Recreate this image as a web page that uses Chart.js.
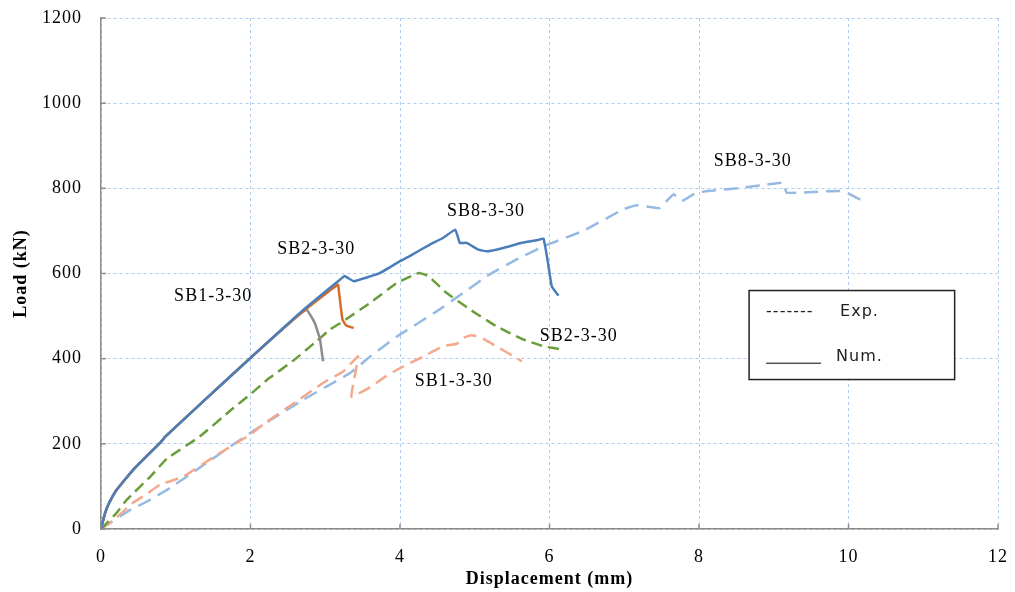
<!DOCTYPE html>
<html>
<head>
<meta charset="utf-8">
<script src="https://cdn.jsdelivr.net/npm/chart.js@4/dist/chart.umd.min.js"></script>
<style>
  html, body { margin: 0; padding: 0; background: #fff; }
  #wrap { width: 1015px; height: 592px; }
</style>
</head>
<body>
<div id="wrap"><canvas id="loadChart"></canvas></div>
<script>
// Numerical curves (solid)
const numSB8X = [0, 0.05, 0.1, 0.21, 0.43, 0.79, 0.86, 1.4, 2.0, 2.71, 3.2, 3.26, 3.38, 3.73, 4.0, 4.13, 4.4, 4.58, 4.74, 4.8, 4.89, 5.05, 5.16, 5.38, 5.63, 5.83, 5.92, 5.98, 6.03, 6.12];
const numSB8Y = [0, 35, 58, 92, 139, 202, 217, 305, 402, 515, 586, 594, 582, 601, 629, 641, 668, 684, 703, 672, 672, 656, 652, 660, 672, 678, 682, 625, 570, 548];
const numSB2X = [0, 0.05, 0.1, 0.21, 0.43, 0.79, 0.86, 1.4, 2.0, 2.71, 3.17, 3.18, 3.23, 3.28, 3.38];
const numSB2Y = [0, 35, 58, 92, 139, 202, 217, 305, 402, 512, 574, 562, 492, 478, 472];
const numSB1X = [0, 0.05, 0.1, 0.21, 0.43, 0.79, 0.86, 1.4, 2.0, 2.6, 2.75, 2.86, 2.93, 2.97];
const numSB1Y = [0, 35, 58, 92, 139, 202, 217, 305, 402, 497, 515, 484, 445, 394];

// Experimental curves (dashed)
const expSB2X = [0, 0.21, 0.34, 0.66, 0.88, 1.32, 1.77, 1.99, 2.22, 2.57, 2.89, 3.06, 3.24, 3.6, 3.96, 4.25, 4.38, 4.62, 4.94, 5.29, 5.65, 5.92, 6.19];
const expSB2Y = [0, 38, 68, 123, 165, 217, 284, 315, 350, 395, 442, 468, 488, 531, 578, 601, 594, 555, 515, 476, 445, 429, 421];
const expSB1X = [0, 0.17, 0.43, 0.61, 0.79, 1.1, 1.55, 1.99, 2.22, 2.62, 2.97, 3.24, 3.44, 3.35, 3.58, 3.78, 3.96, 4.31, 4.58, 4.76, 4.85, 4.96, 5.09, 5.29, 5.63];
const expSB1Y = [0, 21, 62, 82, 104, 123, 174, 221, 252, 300, 343, 370, 405, 311, 331, 355, 374, 405, 429, 435, 449, 455, 449, 429, 394];
const expSB8X = [0, 0.39, 0.61, 0.92, 1.28, 1.99, 2.71, 3.33, 3.58, 3.96, 4.49, 4.85, 5.2, 5.56, 5.92, 6.45, 6.99, 7.17, 7.43, 7.48, 7.66, 7.77, 7.97, 8.55, 8.91, 9.13, 9.17, 9.35, 9.89, 10.02, 10.24];
const expSB8Y = [0, 45, 64, 96, 139, 225, 304, 366, 402, 452, 511, 555, 598, 633, 664, 700, 751, 760, 754, 754, 786, 770, 790, 801, 809, 813, 790, 790, 794, 786, 766];

// Curve labels (data coordinates of text centre)
const labelText = ['SB8-3-30', 'SB8-3-30', 'SB2-3-30', 'SB1-3-30', 'SB2-3-30', 'SB1-3-30'];
const labelX = [5.15, 8.72, 2.88, 1.50, 6.39, 4.72];
const labelY = [746, 864, 656, 546, 452, 348];

const xTickValues = [0, 2, 4, 6, 8, 10, 12];
const yTickValues = [0, 200, 400, 600, 800, 1000, 1200];

const toPoints = (xs, ys) => xs.map((x, i) => ({ x, y: ys[i] }));

const datasets = [
  { label: 'Num SB8-3-30', data: toPoints(numSB8X, numSB8Y), borderColor: 'rgb(74,126,187)', borderWidth: 2.5 },
  { label: 'Num SB2-3-30', data: toPoints(numSB2X, numSB2Y), borderColor: 'rgb(214,108,40)', borderWidth: 2.5 },
  { label: 'Num SB1-3-30', data: toPoints(numSB1X, numSB1Y), borderColor: 'rgb(140,140,140)', borderWidth: 2.5 },
  { label: 'Exp SB2-3-30', data: toPoints(expSB2X, expSB2Y), borderColor: 'rgb(106,157,58)', borderWidth: 2.5, borderDash: [11, 6] },
  { label: 'Exp SB1-3-30', data: toPoints(expSB1X, expSB1Y), borderColor: 'rgb(244,168,140)', borderWidth: 2.5, borderDash: [13, 7] },
  { label: 'Exp SB8-3-30', data: toPoints(expSB8X, expSB8Y), borderColor: 'rgb(150,186,226)', borderWidth: 2.5, borderDash: [14, 8] }
].map(ds => Object.assign(ds, { showLine: true, pointRadius: 0, fill: false, tension: 0.1 }));

const spacing = {
  id: 'spacing',
  beforeDraw(chart) { chart.ctx.letterSpacing = '1px'; }
};

// curve labels, inward tick marks and the Exp./Num. box
const decorations = {
  id: 'decorations',
  afterDatasetsDraw(chart) {
    const { ctx, scales: { x, y }, chartArea } = chart;
    ctx.save();
    ctx.strokeStyle = '#8c8c8c';
    ctx.lineWidth = 1.5;
    yTickValues.forEach(v => {
      const py = y.getPixelForValue(v);
      ctx.beginPath(); ctx.moveTo(chartArea.left, py); ctx.lineTo(chartArea.left + 5, py); ctx.stroke();
    });
    xTickValues.forEach(v => {
      const px = x.getPixelForValue(v);
      ctx.beginPath(); ctx.moveTo(px, chartArea.bottom); ctx.lineTo(px, chartArea.bottom - 5); ctx.stroke();
    });

    ctx.fillStyle = '#000';
    ctx.font = '18px "Liberation Serif", "Times New Roman", serif';
    ctx.textAlign = 'center';
    ctx.textBaseline = 'middle';
    labelText.forEach((t, i) => {
      ctx.fillText(t, x.getPixelForValue(labelX[i]), y.getPixelForValue(labelY[i]));
    });

    // legend box
    const bx = x.getPixelForValue(8.67), by = y.getPixelForValue(560);
    const bw = x.getPixelForValue(11.42) - bx, bh = y.getPixelForValue(351) - by;
    ctx.fillStyle = '#fff';
    ctx.fillRect(bx, by, bw, bh);
    ctx.strokeStyle = '#222';
    ctx.lineWidth = 1.5;
    ctx.strokeRect(bx, by, bw, bh);
    ctx.fillStyle = '#222';
    ctx.font = '16px "DejaVu Sans", sans-serif';
    ctx.textAlign = 'left';
    ctx.fillText('-------', bx + 17, by + 21);
    ctx.fillText('Exp.', bx + 91, by + 21);
    ctx.fillStyle = '#555';
    ctx.fillRect(bx + 17, by + 72, 55, 1.5);
    ctx.fillStyle = '#222';
    ctx.fillText('Num.', bx + 87, by + 66);
    ctx.restore();
  }
};

const serifTick = { family: '"Liberation Serif", "Times New Roman", serif', size: 18 };
const serifTitle = { family: '"Liberation Serif", "Times New Roman", serif', size: 18, weight: 'bold' };
const gridStyle = { color: 'rgba(165,200,240,0.9)', lineWidth: 1, drawTicks: false };
const borderStyle = { color: '#8c8c8c', width: 1.5, dash: [3, 3] };

new Chart(document.getElementById('loadChart'), {
  type: 'scatter',
  data: { datasets },
  plugins: [spacing, decorations],
  options: {
    responsive: true,
    maintainAspectRatio: false,
    animation: false,
    layout: { padding: { top: 18, right: 17, left: 0, bottom: 0 } },
    plugins: { legend: { display: false }, tooltip: { enabled: false } },
    scales: {
      x: {
        type: 'linear', min: 0, max: 12,
        afterBuildTicks: s => { s.ticks = xTickValues.map(v => ({ value: v })); },
        afterFit: s => { s.height = 63; s.paddingLeft = 0; s.paddingRight = 0; },
        grid: gridStyle,
        border: borderStyle,
        ticks: { color: '#000', font: serifTick, padding: 17, callback: v => String(v) },
        title: { display: true, text: 'Displacement (mm)', color: '#000', font: serifTitle, padding: { top: 0, bottom: 2 } }
      },
      y: {
        type: 'linear', min: 0, max: 1200,
        afterBuildTicks: s => { s.ticks = yTickValues.map(v => ({ value: v })); },
        afterFit: s => { s.width = 101; s.paddingTop = 0; s.paddingBottom = 0; },
        grid: gridStyle,
        border: borderStyle,
        ticks: { color: '#000', font: serifTick, padding: 19, callback: v => String(v) },
        title: { display: true, text: 'Load (kN)', color: '#000', font: serifTitle, padding: { top: 11, bottom: 0 } }
      }
    }
  }
});
</script>
</body>
</html>
